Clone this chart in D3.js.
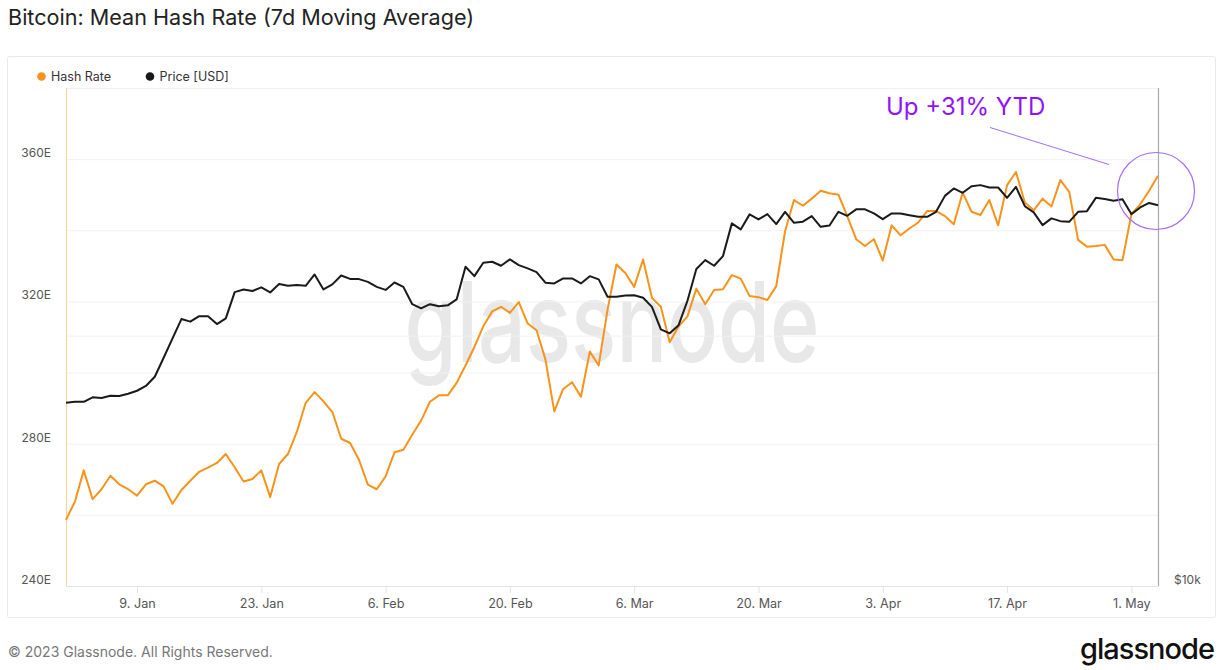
<!DOCTYPE html>
<html>
<head>
<meta charset="utf-8">
<script src="https://cdn.jsdelivr.net/npm/d3@7"></script>
<style>
  body { margin: 0; background: #fff; }
  svg text { font-family: Inter, "Noto Sans", sans-serif; }
</style>
</head>
<body>
<svg id="chart" width="1221" height="670"></svg>
<script>
// daily series, first point = 1 Jan 2023
const startDate = "2023-01-01";

const hashRate = [
  258.6, 263.7, 272.5, 264.4, 267.2, 271.0, 268.6, 267.2, 265.4, 268.6,
  269.6, 268.0, 263.1, 267.0, 269.6, 272.1, 273.3, 274.6, 277.1, 273.4,
  269.4, 270.1, 272.5, 265.0, 274.3, 277.1, 283.3, 291.5, 294.5, 291.9,
  288.9, 281.4, 280.2, 275.5, 268.5, 267.2, 270.8, 277.6, 278.3, 282.5,
  286.5, 291.8, 293.6, 293.6, 297.1, 302.0, 307.2, 313.0, 317.2, 318.5,
  316.8, 319.8, 313.8, 311.9, 303.7, 289.1, 295.4, 297.3, 293.2, 305.9,
  302.0, 317.7, 330.4, 328.0, 324.1, 331.8, 321.0, 318.5, 308.5, 313.0,
  315.8, 323.6, 319.2, 323.2, 323.4, 327.4, 326.4, 321.5, 321.2, 320.4,
  324.3, 339.8, 348.5, 346.9, 348.9, 351.1, 350.4, 350.0, 344.0, 337.5,
  335.6, 337.5, 331.5, 341.4, 338.6, 340.5, 342.2, 345.4, 345.4, 344.0,
  341.7, 350.6, 345.2, 344.3, 348.5, 341.4, 352.7, 356.4, 347.8, 345.6,
  348.9, 346.7, 354.1, 350.8, 337.3, 335.4, 335.6, 335.9, 331.8, 331.6,
  344.5, 347.3, 351.1, 355.3
];

const price = [
  16610, 16650, 16650, 16860, 16830, 16930, 16920, 17030, 17170, 17400,
  17850, 18810, 19850, 20940, 20790, 21110, 21110, 20650, 20980, 22560,
  22730, 22630, 22860, 22540, 23070, 22960, 23010, 22960, 23690, 22730,
  23050, 23620, 23400, 23390, 23210, 22890, 22700, 23170, 22890, 21820,
  21570, 21820, 21700, 21750, 22110, 24200, 23580, 24470, 24540, 24270,
  24700, 24310, 24090, 23850, 23160, 23110, 23430, 23430, 23110, 23580,
  23370, 22270, 22270, 22350, 22370, 22210, 21660, 20350, 20130, 20590,
  22030, 24050, 24650, 24270, 24930, 27290, 26840, 27980, 27590, 28000,
  27240, 28180, 27330, 27420, 27850, 27030, 27130, 28180, 27870, 28370,
  28370, 28050, 27610, 28050, 28050, 27920, 27790, 27790, 28180, 29450,
  30060, 29700, 30250, 30340, 30140, 30140, 29290, 30190, 28620, 28130,
  27160, 27670, 27460, 27410, 28180, 28230, 29290, 29190, 29050, 29170,
  28000, 28520, 28880, 28700
];

const xTickDates = ["2023-01-09", "2023-01-23", "2023-02-06", "2023-02-20", "2023-03-06",
                    "2023-03-20", "2023-04-03", "2023-04-17", "2023-05-01"];
const hashGridValues = [260, 280, 300, 320, 340, 360, 380];
const hashLabelValues = [240, 280, 320, 360];
const priceGridValues = [20000];
const priceLabelValues = [10000];

const svg = d3.select("#chart");
const plot = { left: 66, right: 1158, top: 88, bottom: 586 };

const parse = d3.utcParse("%Y-%m-%d");
const t0 = parse(startDate);
const dates = hashRate.map((_, i) => d3.utcDay.offset(t0, i));

const x = d3.scaleUtc()
    .domain([dates[0], dates[dates.length - 1]])
    .range([plot.left, plot.right]);
const yHash = d3.scaleLinear()
    .domain([240, 380])
    .range([plot.bottom, plot.top]);
const yPrice = d3.scaleLog()
    .domain([10000, 39700])
    .range([plot.bottom, plot.top]);

// title
svg.append("text")
    .attr("x", 8).attr("y", 25)
    .attr("font-size", 21.6).attr("fill", "#222")
    .text("Bitcoin: Mean Hash Rate (7d Moving Average)");

// panel frame
svg.append("rect")
    .attr("x", 7.5).attr("y", 56.5)
    .attr("width", 1208).attr("height", 561)
    .attr("rx", 2)
    .attr("fill", "none").attr("stroke", "#e9e9e9");

// legend
const legend = [
  { label: "Hash Rate", color: "#f7931a", x: 41.5 },
  { label: "Price [USD]", color: "#1a1a1a", x: 150 }
];
legend.forEach(d => {
  svg.append("circle").attr("cx", d.x).attr("cy", 76.5).attr("r", 4.3).attr("fill", d.color);
  svg.append("text").attr("x", d.x + 9.5).attr("y", 81)
      .attr("font-size", 12.5).attr("fill", "#333").text(d.label);
});

// watermark
svg.append("text")
    .attr("x", 612).attr("y", 362)
    .attr("text-anchor", "middle")
    .attr("font-size", 112).attr("font-weight", 500)
    .attr("fill", "#e8e8e8")
    .attr("textLength", 415).attr("lengthAdjust", "spacingAndGlyphs")
    .text("glassnode");

// grid lines
svg.append("g").selectAll("line")
    .data(hashGridValues)
    .join("line")
    .attr("x1", plot.left).attr("x2", plot.right)
    .attr("y1", d => yHash(d) + 0.5).attr("y2", d => yHash(d) + 0.5)
    .attr("stroke", "#f1f1f1");
svg.append("g").selectAll("line")
    .data(priceGridValues)
    .join("line")
    .attr("x1", plot.left).attr("x2", plot.right)
    .attr("y1", d => yPrice(d) + 0.5).attr("y2", d => yPrice(d) + 0.5)
    .attr("stroke", "#f1f1f1");

// x axis
const xAxis = d3.axisBottom(x)
    .tickValues(xTickDates.map(parse))
    .tickFormat(d3.utcFormat("%-d. %b"))
    .tickSize(7)
    .tickSizeOuter(0);
const gx = svg.append("g")
    .attr("transform", `translate(0,${plot.bottom})`)
    .call(xAxis);
gx.select(".domain").attr("stroke", "#e3e3e3");
gx.selectAll(".tick line").attr("stroke", "#e3e3e3");
gx.selectAll(".tick text")
    .attr("font-size", 12.6).attr("fill", "#555")
    .attr("font-family", "Inter, sans-serif")
    .attr("dy", "0.71em").attr("y", 13);

// left axis labels
svg.append("g").selectAll("text")
    .data(hashLabelValues)
    .join("text")
    .attr("x", 51).attr("y", d => yHash(d) - 2)
    .attr("text-anchor", "end")
    .attr("font-size", 12).attr("fill", "#555")
    .text(d => d + "E");

// right axis labels
svg.append("g").selectAll("text")
    .data(priceLabelValues)
    .join("text")
    .attr("x", 1174).attr("y", d => yPrice(d) - 2)
    .attr("font-size", 12).attr("fill", "#555")
    .text(d => "$" + d3.format("~s")(d));

// axis lines
svg.append("line")
    .attr("x1", plot.left + 0.5).attr("x2", plot.left + 0.5)
    .attr("y1", plot.top).attr("y2", plot.bottom)
    .attr("stroke", "#ffd39a").attr("stroke-width", 1.2);
svg.append("line")
    .attr("x1", plot.right + 0.5).attr("x2", plot.right + 0.5)
    .attr("y1", plot.top).attr("y2", plot.bottom)
    .attr("stroke", "#a8a8a8").attr("stroke-width", 1.2);

// series
const hashLine = d3.line()
    .x((d, i) => x(dates[i]))
    .y(d => yHash(d));
const priceLine = d3.line()
    .x((d, i) => x(dates[i]))
    .y(d => yPrice(d));

svg.append("path")
    .datum(hashRate)
    .attr("d", hashLine)
    .attr("fill", "none").attr("stroke", "#f7931a")
    .attr("stroke-width", 2).attr("stroke-linejoin", "round");
svg.append("path")
    .datum(price)
    .attr("d", priceLine)
    .attr("fill", "none").attr("stroke", "#1a1a1a")
    .attr("stroke-width", 2).attr("stroke-linejoin", "round");

// annotation
svg.append("text")
    .attr("x", 886).attr("y", 115)
    .attr("font-family", "'Liberation Sans', Arial, sans-serif")
    .attr("font-size", 24).attr("fill", "#9013fe")
    .text("Up +31% YTD");
svg.append("line")
    .attr("x1", 990).attr("y1", 127.5)
    .attr("x2", 1109).attr("y2", 164.5)
    .attr("stroke", "#a56bff").attr("stroke-width", 1);
svg.append("circle")
    .attr("cx", 1156).attr("cy", 191).attr("r", 38.5)
    .attr("fill", "none").attr("stroke", "#a56bff").attr("stroke-width", 1.2);

// footer
svg.append("text")
    .attr("x", 8).attr("y", 657)
    .attr("font-size", 14).attr("fill", "#777")
    .text("© 2023 Glassnode. All Rights Reserved.");
svg.append("text")
    .attr("x", 1214).attr("y", 659)
    .attr("text-anchor", "end")
    .attr("font-size", 29).attr("font-weight", 500).attr("fill", "#111")
    .attr("letter-spacing", -1)
    .text("glassnode");
</script>
</body>
</html>
